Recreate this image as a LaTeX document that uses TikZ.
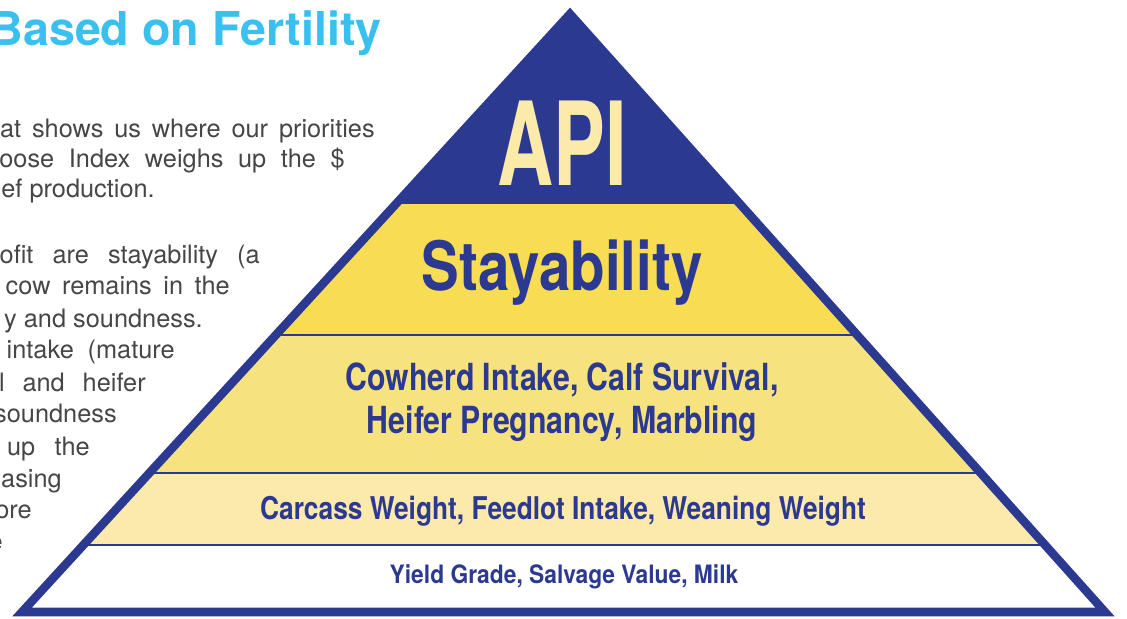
\documentclass[tikz,border=0pt]{standalone}
\usepackage{graphicx}
\usepackage{fontspec}
\setmainfont{TeX Gyre Heros}
\usetikzlibrary{calc}

\definecolor{apinavy}{RGB}{44,57,144}
\definecolor{stayyellow}{RGB}{248,221,84}
\definecolor{cowyellow}{RGB}{246,227,128}
\definecolor{carcyellow}{RGB}{251,234,172}
\definecolor{apicream}{RGB}{251,234,170}
\definecolor{titlecyan}{RGB}{58,192,238}
\definecolor{bodygray}{RGB}{70,70,70}

\newcommand{\narrow}[2]{\scalebox{#1}[1]{#2}}

\tikzset{
  lbl/.style={text=apinavy, inner sep=0pt, anchor=base},
  bodyline/.style={text=bodygray, inner sep=0pt, anchor=base east,
    font=\fontsize{19}{22}\selectfont},
}

\begin{document}
\begin{tikzpicture}[x=0.75pt,y=-0.75pt]
  \useasboundingbox (0,0) rectangle (1127,618);

  \coordinate (apex) at (570,14);
  \coordinate (bl) at (22,612);
  \coordinate (br) at (1105,612);

  \begin{scope}
    \clip (apex) -- (bl) -- (br) -- cycle;
    \fill[apinavy] (0,0) rectangle (1127,204);
    \fill[stayyellow] (0,204) rectangle (1127,335);
    \fill[cowyellow] (0,335) rectangle (1127,473);
    \fill[carcyellow] (0,473) rectangle (1127,545);
    \foreach \y in {335,473,545}
      \draw[apinavy, line width=2.2pt] (0,\y) -- (1127,\y);
  \end{scope}
  \draw[apinavy, line width=6.4pt, line join=miter] (apex) -- (bl) -- (br) -- cycle;

  \node[lbl, text=apicream, font=\bfseries\fontsize{87}{87}\selectfont] (api) at (562,185) {\narrow{0.67}{API}};
  \node[lbl, font=\bfseries\fontsize{51}{51}\selectfont] (stay) at (562,290) {\narrow{0.83}{Stayability}};
  \node[lbl, font=\bfseries\fontsize{28}{28}\selectfont] (cow1) at (562,390) {\narrow{0.81}{Cowherd Intake, Calf Survival,}};
  \node[lbl, font=\bfseries\fontsize{28}{28}\selectfont] (cow2) at (562,433) {\narrow{0.81}{Heifer Pregnancy, Marbling}};
  \node[lbl, font=\bfseries\fontsize{23.5}{23.5}\selectfont] (carc) at (563,519) {\narrow{0.84}{Carcass Weight, Feedlot Intake, Weaning Weight}};
  \node[lbl, font=\bfseries\fontsize{19}{19}\selectfont] (yield) at (564,583) {\narrow{0.9}{Yield Grade, Salvage Value, Milk}};

  \node[text=titlecyan, inner sep=0pt, anchor=base east, font=\bfseries\fontsize{35}{40}\selectfont] (t0) at (382,45) {Based on Fertility};

  \node[bodyline] (t1) at (375,137) {\makebox[281pt][s]{at shows us where our priorities}};
  \node[bodyline] (t2) at (345,167) {\makebox[259pt][s]{oose Index weighs up the \$}};
  \node[bodyline] (t3) at (155,197) {ef production.};
  \node[bodyline] (t4) at (260,263) {\makebox[195pt][s]{ofit are stayability (a}};
  \node[bodyline] (t5) at (230,294) {\makebox[168pt][s]{cow remains in the}};
  \node[bodyline] (t6) at (203,327) {y and soundness.};
  \node[bodyline] (t7) at (175,358) {\makebox[126pt][s]{intake (mature}};
  \node[bodyline] (t8) at (146,391) {\makebox[110pt][s]{l and heifer}};
  \node[bodyline] (t9) at (117,422) {soundness};
  \node[bodyline] (t10) at (90,455) {\makebox[62pt][s]{up the}};
  \node[bodyline] (t11) at (62,487) {asing};
  \node[bodyline] (t12) at (32,518) {ore};
  \node[bodyline] (t13) at (3,550) {e};
\end{tikzpicture}
\end{document}
